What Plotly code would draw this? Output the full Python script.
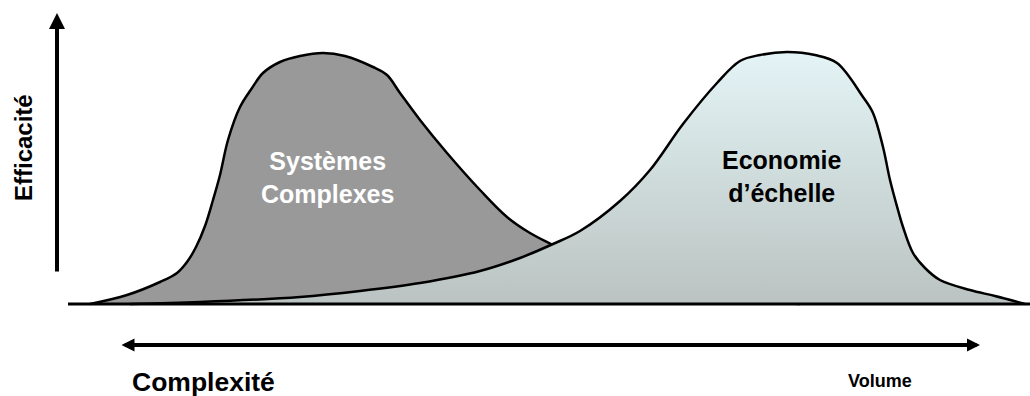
import plotly.graph_objects as go

# Curve profiles (x position, height above the baseline)
complex_x = [90, 127, 160, 177, 187, 196, 205, 213, 220, 228, 240, 252, 263, 280, 300, 323, 345, 373, 387, 400, 420, 447, 480, 507, 530, 553, 600, 650, 720, 800]
complex_h = [0, 9, 22, 31, 42, 57, 78, 104, 129, 164, 197, 216, 231, 242, 248, 251, 248, 237, 229, 211, 184, 151, 114, 87, 71, 59, 36, 19, 6, 0]

scale_x = [130, 200, 300, 360, 420, 480, 520, 553, 580, 620, 650, 683, 717, 740, 760, 787, 815, 837, 863, 873, 883, 890, 898, 903, 913, 925, 940, 970, 995, 1025]
scale_h = [0, 2, 7, 13, 21, 33, 46, 60, 73, 103, 134, 180, 221, 243, 249, 252, 249, 241, 207, 191, 157, 124, 94, 77, 51, 36, 24, 14, 8, 0]

baseline_x = [68, 1030]
baseline_h = [0, 0]

label_complex = "Systèmes<br>Complexes"
label_scale = "Economie<br>d’échelle"
axis_y_title = "Efficacité"
axis_x_left = "Complexité"
axis_x_right = "Volume"

FONT = "Liberation Sans, Arial, sans-serif"

fig = go.Figure()

fig.add_trace(go.Scatter(
    x=complex_x, y=complex_h, mode="lines",
    line=dict(color="black", width=2.5, shape="spline", smoothing=1.0),
    fill="tozeroy", fillcolor="#999999", hoverinfo="skip"))

fig.add_trace(go.Scatter(
    x=scale_x, y=scale_h, mode="lines",
    line=dict(color="black", width=2.5, shape="spline", smoothing=1.0),
    fill="tozeroy",
    fillgradient=dict(type="vertical", colorscale=[[0, "#BAC3C1"], [1, "#E4F4F6"]]),
    hoverinfo="skip"))

fig.add_trace(go.Scatter(
    x=baseline_x, y=baseline_h, mode="lines",
    line=dict(color="black", width=3), hoverinfo="skip"))

# Axis arrows
fig.add_annotation(x=57, y=291, ax=57, ay=31, xref="x", yref="y", axref="x", ayref="y",
                   text="", showarrow=True, arrowhead=2, arrowsize=0.8, arrowwidth=4,
                   arrowcolor="black", standoff=0)
fig.add_annotation(x=980, y=-41, ax=120, ay=-41, xref="x", yref="y", axref="x", ayref="y",
                   text="", showarrow=True, arrowhead=2, arrowsize=0.65, arrowwidth=4,
                   arrowside="end+start", arrowcolor="black", standoff=0, startstandoff=0)

# Labels
fig.add_annotation(x=327, y=127, text=label_complex, showarrow=False,
                   font=dict(family=FONT, size=25, color="white", weight="bold"),
                   xanchor="center", yanchor="middle")
fig.add_annotation(x=782, y=128, text=label_scale, showarrow=False,
                   font=dict(family=FONT, size=25, color="black", weight="bold"),
                   xanchor="center", yanchor="middle")
fig.add_annotation(x=23, y=156, text=axis_y_title, showarrow=False, textangle=-90,
                   font=dict(family=FONT, size=24, color="black", weight="bold"),
                   xanchor="center", yanchor="middle")
fig.add_annotation(x=130, y=-78, text=axis_x_left, showarrow=False,
                   font=dict(family=FONT, size=26.5, color="black", weight="bold"),
                   xanchor="left", yanchor="middle")
fig.add_annotation(x=880, y=-77, text=axis_x_right, showarrow=False,
                   font=dict(family=FONT, size=18, color="black", weight="bold"),
                   xanchor="center", yanchor="middle")

fig.update_layout(
    width=1030, height=396, margin=dict(l=0, r=0, t=0, b=0),
    paper_bgcolor="white", plot_bgcolor="white", showlegend=False,
    xaxis=dict(range=[0, 1030], visible=False, fixedrange=True),
    yaxis=dict(range=[-92, 304], visible=False, fixedrange=True),
)

fig.write_html("out.html", config={"displayModeBar": False},
               post_script="document.body.style.margin='0';document.body.style.overflow='hidden';")
